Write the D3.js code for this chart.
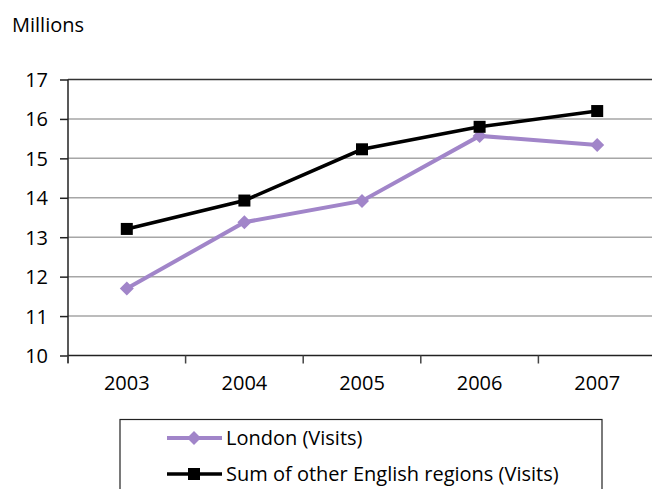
<!DOCTYPE html>
<html><head><meta charset="utf-8">
<script src="https://cdn.jsdelivr.net/npm/d3@7"></script>
<style>body{margin:0;background:#fff}svg{display:block}text{font-family:"Open Sans",sans-serif;fill:#000}</style>
</head><body>
<script>
const years = ["2003","2004","2005","2006","2007"];
const london = [11.70, 13.38, 13.92, 15.57, 15.34];
const others = [13.21, 13.93, 15.23, 15.80, 16.20];
const yTicks = [10,11,12,13,14,15,16,17];
const seriesNames = ["London (Visits)", "Sum of other English regions (Visits)"];

const W = 652, H = 489;
const svg = d3.select("body").append("svg").attr("width", W).attr("height", H);
const x = d3.scaleBand().domain(years).range([68, 656]).padding(0);
const y = d3.scaleLinear().domain([10,17]).range([355.5, 79.5]);

// gridlines
svg.append("g").selectAll("line").data(yTicks.filter(d=>d>10)).join("line")
  .attr("x1",68).attr("x2",W).attr("y1",d=>y(d)).attr("y2",d=>y(d))
  .attr("stroke",d=>d===17?"#333":"#a6a6a6").attr("stroke-width",1.5);

// y axis
const ya = svg.append("g").attr("transform","translate(68,0)")
  .call(d3.axisLeft(y).tickValues(yTicks).tickSize(8).tickPadding(12).tickFormat(d3.format("d")));
ya.select(".domain").attr("stroke","#222").attr("stroke-width",1.5).attr("d","M0,363V79.5");
ya.selectAll(".tick line").attr("stroke","#222").attr("stroke-width",1.5);
ya.selectAll("text").attr("font-size",20).attr("font-family","Open Sans").attr("dy","0.35em");

// x axis
const xa = svg.append("g").attr("transform",`translate(0,${y(10)})`)
  .call(d3.axisBottom(x).tickSize(0).tickPadding(20));
xa.select(".domain").attr("stroke","#222").attr("stroke-width",1.5).attr("d","M68,0H652");
xa.selectAll("text").attr("font-size",20).attr("font-family","Open Sans").attr("dy","0.71em");
// band boundary ticks
svg.append("g").selectAll("line").data(years).join("line")
  .attr("x1",d=>x(d)).attr("x2",d=>x(d)).attr("y1",y(10)).attr("y2",y(10)+8)
  .attr("stroke","#444").attr("stroke-width",1.5);

const cx = d => x(d) + x.bandwidth()/2;
const line = d3.line().x((d,i)=>cx(years[i])).y(d=>y(d));

function diamond(g, px, py, s){
  g.append("path").attr("d",`M${px},${py-s}L${px+s},${py}L${px},${py+s}L${px-s},${py}Z`).attr("fill","#a185c9");
}
function square(g, px, py, s){
  g.append("rect").attr("x",px-s).attr("y",py-s).attr("width",2*s).attr("height",2*s).attr("fill","#000");
}

svg.append("path").datum(london).attr("d",line).attr("fill","none").attr("stroke","#a185c9").attr("stroke-width",4);
const gl = svg.append("g");
london.forEach((v,i)=>diamond(gl, cx(years[i]), y(v), 7));

svg.append("path").datum(others).attr("d",line).attr("fill","none").attr("stroke","#000").attr("stroke-width",3.5);
const go = svg.append("g");
others.forEach((v,i)=>square(go, cx(years[i]), y(v), 6));

// legend
const lg = svg.append("g");
lg.append("rect").attr("x",120).attr("y",419.5).attr("width",482).attr("height",90)
  .attr("fill","none").attr("stroke","#222").attr("stroke-width",1.2);
lg.append("line").attr("x1",167).attr("x2",222).attr("y1",438).attr("y2",438).attr("stroke","#a185c9").attr("stroke-width",4);
diamond(lg,194,438,7);
lg.append("line").attr("x1",167).attr("x2",222).attr("y1",474).attr("y2",474).attr("stroke","#000").attr("stroke-width",3.5);
square(lg,194,474,6);
lg.append("text").attr("x",226).attr("y",438).attr("dy","0.35em").attr("font-size",20).text(seriesNames[0]);
lg.append("text").attr("x",226).attr("y",474).attr("dy","0.35em").attr("font-size",20).text(seriesNames[1]);

svg.append("text").attr("x",12).attr("y",25).attr("dy","0.35em").attr("font-size",20).text("Millions");
</script>
</body></html>
